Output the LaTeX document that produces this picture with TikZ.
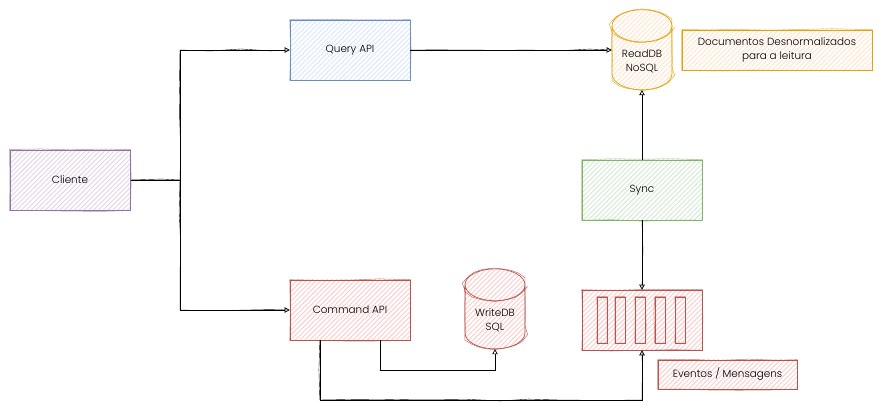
\documentclass[tikz,border=0pt]{standalone}
\usepackage{fontspec}
\setmainfont{Poppins}[UprightFont=* Light]
\usetikzlibrary{arrows.meta,patterns.meta,shapes.geometric,decorations.pathmorphing,calc}
\definecolor{bluL}{HTML}{6C8EBF}\definecolor{bluF}{HTML}{DAE8FC}
\definecolor{purL}{HTML}{9673A6}\definecolor{purF}{HTML}{E1D5E7}
\definecolor{yelL}{HTML}{E0A30F}\definecolor{yelF}{HTML}{FFE6CC}
\definecolor{grnL}{HTML}{82B366}\definecolor{grnF}{HTML}{D5E8D4}
\definecolor{redL}{HTML}{B85450}\definecolor{redF}{HTML}{F8CECC}
\tikzset{
  hatch/.style={pattern={Lines[angle=45,distance=3.4pt,line width=1.1pt]},pattern color=#1!90},
  boxbase/.style 2 args={rectangle,draw=#1,line width=.6pt,hatch=#2,inner sep=0pt,align=center,text=black,font=\fontsize{10.4}{13.5}\selectfont},
  dbbase/.style 2 args={cylinder,shape border rotate=90,aspect=.8,draw=#1,line width=.7pt,hatch=#2,inner sep=0pt,align=center,text=black,font=\fontsize{10.4}{14}\selectfont,
    minimum width=60pt,minimum height=80pt,decoration={random steps,segment length=7pt,amplitude=.35pt},postaction={decorate,draw=#1,line width=.4pt}},
  wob/.style={decoration={random steps,segment length=30pt,amplitude=1pt}},
  wobbly/.style={wob,line width=.5pt,draw=#1,opacity=.75},
  conn/.style={draw=black,line width=.65pt,-{Triangle[open,length=5pt,width=5.5pt,line width=.7pt]}},
  wire/.style={wob,draw=black,line width=.4pt}
}
\newcommand{\skbox}[2]{\draw[wobbly=#2] (#1.north west) decorate {-- (#1.north east)} decorate {-- (#1.south east)} decorate {-- (#1.south west)} decorate {-- (#1.north west)};}
\begin{document}
\begin{tikzpicture}[x=1pt,y=-1pt]
\pgfmathsetseed{7}
\useasboundingbox (0,0) rectangle (884,419);
\fill[white] (0,0) rectangle (884,419);
% boxes
\node[boxbase={purL}{purF},minimum width=120pt,minimum height=60pt] (cli) at (70,180) {Cliente};
\node[boxbase={bluL}{bluF},minimum width=120pt,minimum height=60pt] (qry) at (350,50) {Query API};
\node[boxbase={redL}{redF},minimum width=120pt,minimum height=60pt] (cmd) at (350,310) {Command API};
\node[boxbase={grnL}{grnF},minimum width=120pt,minimum height=60pt] (syn) at (642,190) {Sync};
\node[boxbase={redL}{redF},minimum width=120pt,minimum height=60pt] (que) at (642,320) {};
\node[boxbase={yelL}{yelF},minimum width=190pt,minimum height=40pt] (nt1) at (777,50) {Documentos Desnormalizados\\para a leitura};
\node[boxbase={redL}{redF},minimum width=139pt,minimum height=29pt] (nt2) at (727.5,374.5) {Eventos / Mensagens};
\foreach \n/\x in {b1/602,b2/620,b3/640,b4/660,b5/680}{
  \node[boxbase={redL}{redF},minimum width=10pt,minimum height=46pt,line width=.5pt] (\n) at (\x,320) {};
}
% databases
\node[dbbase={yelL}{yelF}] (rdb) at (642,58) {\mbox{}\\ReadDB\\NoSQL};
\node[dbbase={redL}{redF}] (wdb) at (495,317) {\mbox{}\\WriteDB\\SQL};
% second strokes
\foreach \n/\c in {cli/purL,qry/bluL,cmd/redL,syn/grnL,que/redL,nt1/yelL,nt2/redL,b1/redL,b2/redL,b3/redL,b4/redL,b5/redL}{\skbox{\n}{\c}}
% helper points
\coordinate (rail) at (180,180);
\coordinate (low) at (0,400);
\coordinate (mid) at (0,370);
\coordinate (cmdA) at ($(cmd.south west)!.25!(cmd.south east)$);
\coordinate (cmdB) at ($(cmd.south west)!.75!(cmd.south east)$);
% connectors
\draw[conn] (cli.east) -- (rail) -- (rail |- qry.west) -- (qry.west);
\draw[conn] (cli.east) -- (rail) -- (rail |- cmd.west) -- (cmd.west);
\draw[conn] (qry.east) -- (qry.east -| rdb.west);
\draw[conn] (syn.north) -- (rdb.south);
\draw[conn] (syn.south) -- (que.north);
\draw[conn] (cmdB) -- (cmdB |- mid) -- (wdb.south |- mid) -- (wdb.south);
\draw[conn] (cmdA) -- (cmdA |- low) -- (que.south |- low) -- (que.south);
% second pencil strokes
\draw[wire] (cli.east) decorate {-- (rail)} decorate {-- (rail |- qry.west)} decorate {-- (qry.west)};
\draw[wire] (rail) decorate {-- (rail |- cmd.west)} decorate {-- (cmd.west)};
\draw[wire] (qry.east) decorate {-- (qry.east -| rdb.west)};
\draw[wire] (syn.south) decorate {-- (que.north)};
\draw[wire] (cmdA) decorate {-- (cmdA |- low)} decorate {-- (que.south |- low)} decorate {-- (que.south)};
\end{tikzpicture}
\end{document}
